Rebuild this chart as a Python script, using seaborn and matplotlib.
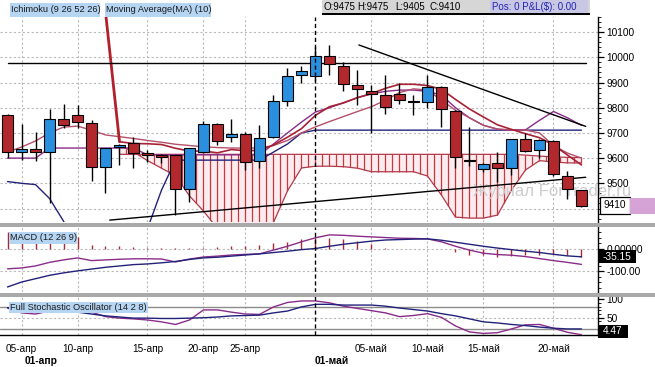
import numpy as np
import matplotlib
matplotlib.use("Agg")
import matplotlib.pyplot as plt
import seaborn as sns
from matplotlib.patches import Rectangle
from matplotlib.ticker import FixedLocator, MultipleLocator

sns.set_style("white")
plt.rcParams['font.family'] = ['Liberation Sans', 'DejaVu Sans']

# ---------------- data ----------------
open_ = [9771, 9623, 9635, 9623, 9754, 9771, 9738, 9564, 9643, 9659,
         9621, 9612, 9612, 9476, 9625, 9735, 9683, 9696, 9590, 9683,
         9828, 9930, 9927, 10005, 9965, 9890, 9867, 9850, 9853, 9824,
         9821, 9883, 9788, 9592, 9557, 9579, 9560, 9675, 9632, 9669,
         9530, 9475]
high = [9775, 9735, 9702, 9795, 9815, 9811, 9751, 9642, 9655, 9683,
        9632, 9615, 9614, 9641, 9747, 9738, 9754, 9705, 9731, 9850,
        9956, 9967, 10042, 10049, 9983, 9950, 9890, 9930, 9897, 9850,
        9930, 9886, 9790, 9725, 9580, 9625, 9677, 9698, 9675, 9672,
        9550, 9475]
low = [9600, 9592, 9590, 9421, 9718, 9718, 9510, 9460, 9573, 9560,
       9586, 9580, 9374, 9427, 9620, 9652, 9665, 9553, 9560, 9680,
       9808, 9899, 9905, 9930, 9866, 9811, 9698, 9774, 9813, 9771,
       9798, 9725, 9560, 9570, 9546, 9506, 9533, 9625, 9599, 9530,
       9437, 9405]
close = [9623, 9635, 9623, 9754, 9731, 9742, 9564, 9639, 9652, 9621,
         9612, 9603, 9476, 9639, 9735, 9669, 9696, 9583, 9679, 9825,
         9926, 9946, 10005, 9972, 9893, 9873, 9853, 9802, 9831, 9824,
         9883, 9795, 9603, 9592, 9577, 9560, 9675, 9629, 9672, 9537,
         9478, 9410]

# Moving average (10) - starts at index 7
ma_start = 7
ma10 = [10180, 9665, 9658, 9657, 9654, 9639, 9628, 9628, 9621, 9634,
        9629, 9631, 9652, 9683, 9717, 9770, 9804, 9819, 9840, 9856,
        9877, 9893, 9893, 9888, 9873, 9833, 9795, 9763, 9732, 9714,
        9697, 9681, 9652, 9612, 9573]

# Ichimoku lines
tenkan = [9624, 9644, 9668, 9700, 9723, 9727, 9711, 9692, 9685, 9678,
          9670, 9663, 9655, 9650, 9645, 9642, 9640, 9640, 9640, 9650,
          9670, 9700, 9724, 9745, 9765, 9785, 9804, 9830, 9860, 9875,
          9870, 9830, 9790, 9760, 9730, 9715, 9711, 9711, 9700, 9650,
          9620, 9600]
kijun = [9600, 9600, 9600, 9640, 9640, 9640, 9640, 9640, 9640, 9640,
         9613, 9613, 9613, 9613, 9613, 9613, 9613, 9613, 9613, 9656,
         9700, 9743, 9783, 9800, 9820, 9840, 9855, 9865, 9870, 9870,
         9865, 9850, 9800, 9760, 9730, 9715, 9712, 9712, 9750, 9785,
         9760, 9730]
chikou = [9507, 9500, 9495, 9440, 9350, 9250, 9250, 9250, 9250, 9250,
          9320, 9473, 9592, 9592, 9592, 9592, 9592, 9592, 9592, 9624,
          9656, 9700, 9711, 9711, 9711, 9711, 9711, 9711, 9711, 9711,
          9711, 9711, 9711, 9711, 9711, 9711, 9711, 9711, 9711, 9711,
          9711, 9711]
cloud_start = 8
span_b = [9615, 9615, 9615, 9615, 9615, 9615, 9615, 9615, 9615, 9615,
          9615, 9615, 9615, 9615, 9615, 9615, 9615, 9615, 9615, 9615,
          9615, 9615, 9615, 9615, 9615, 9615, 9615, 9615, 9615, 9612,
          9608, 9605, 9603, 9602]
span_a = [9650, 9625, 9590, 9560, 9530, 9450, 9390, 9320, 9300, 9300,
          9320, 9345, 9470, 9561, 9568, 9568, 9566, 9560, 9546, 9546,
          9546, 9546, 9529, 9453, 9366, 9362, 9362, 9374, 9473, 9553,
          9590, 9585, 9581, 9581]

# drawn trend lines (index, price)
hline_x, hline_y = [0.06, 41.3], [9977, 9977]
down_x, down_y = [25.1, 41.3], [10049, 9726]
up_x, up_y = [7.3, 41.3], [9354, 9524]

# MACD (12 26 9)
macd = [-89, -85, -76, -60, -49, -40, -52, -49, -46, -44, -44, -45, -58, -45,
        -36, -32, -27, -24, -22, -5, 12, 32, 50, 63, 61, 57, 54, 51, 48, 47,
        45, 32, 12, -5, -19, -25, -28, -34, -43, -52, -60, -69]
signal = [-170, -148, -133, -118, -107, -98, -90, -82, -76, -70, -67, -62,
          -56, -47, -40, -37, -32, -27, -22, -16, -10, -3, 2, 12, 21, 28,
          35, 40, 42, 44, 45, 39, 30, 21, 12, 4, -3, -10, -16, -24, -31, -35.15]
hist = [75, 25, 25, 25, 25, 53, 18, 15, 15, 10, 6, 3, 3, 6, 6, 10, 13, 15,
        18, 25, 32, 44, 54, 51, 44, 37, 22, 3, 1, 0, 0, 0, -15, -26, -29,
        -37, -32, -29, -26, -22, -26, -37]

# Full stochastic (14 2 8)
stoch_k = [76, 63, 60, 68, 76, 80, 65, 53, 49, 47, 44, 39, 32, 44, 71, 71,
           65, 60, 59, 79, 91, 95, 95, 90, 81, 75, 69, 63, 53, 56, 61, 51,
           28, 12, 8, 10, 20, 31, 32, 22, 11, 4.47]
stoch_d = [77, 71, 65, 65, 65, 65, 60, 55, 52, 49, 49, 48, 48, 49, 50, 52,
           55, 56, 57, 63, 68, 79, 86, 86, 84, 84, 84, 81, 76, 72, 68, 61,
           55, 47, 39, 36, 32, 29, 25, 22, 20, 20]

date_pos = [1, 5, 10, 14, 17, 26, 30, 34, 39]
date_labels = ["05-апр", "10-апр", "15-апр", "20-апр", "25-апр",
               "05-май", "10-май", "15-май", "20-май"]
month_sep = 22
price_ticks = [9500, 9600, 9700, 9800, 9900, 10000, 10100]

# ---------------- figure ----------------
W, H = 655, 367
fig = plt.figure(figsize=(W / 100, H / 100), dpi=100)
fig.patch.set_facecolor('white')


def fx(p):
    return p / W


def fy(p):
    return 1 - p / H


def rect_px(x0, y0, x1, y1, **kw):
    r = Rectangle((fx(x0), fy(y1)), fx(x1) - fx(x0), (y1 - y0) / H,
                  transform=fig.transFigure, **kw)
    fig.add_artist(r)


XL = (-0.536, 42.18)
ax_m = fig.add_axes([0, fy(222), fx(598), (222 - 17) / H])
ax_d = fig.add_axes([0, fy(292), fx(598), (292 - 227) / H])
ax_s = fig.add_axes([0, fy(335), fx(598), (335 - 296) / H])

GRID = dict(color='#b9b9b9', lw=0.8, ls=(0, (2, 2)), zorder=0)
for ax in (ax_m, ax_d, ax_s):
    ax.set_xlim(*XL)
    ax.set_facecolor('white')
    for s in ('top', 'left', 'bottom'):
        ax.spines[s].set_visible(False)
    ax.spines['right'].set_color('black')
    ax.spines['right'].set_linewidth(1)
    ax.yaxis.tick_right()
    ax.tick_params(axis='y', which='major', direction='out', length=4,
                   width=0.9, pad=2, labelsize=7.3, colors='black')
    ax.tick_params(axis='y', which='minor', direction='out', length=2, width=0.7)
    ax.set_xticks([])
    ax.grid(False)
    for t in date_pos:
        ax.axvline(t, **GRID)
    ax.axvline(month_sep, color='black', lw=1, ls=(0, (3, 2)), zorder=7)

idx = np.arange(len(close))
o = np.array(open_, float)
c = np.array(close, float)
h = np.array(high, float)
l = np.array(low, float)

# ---- main panel ----
ax_m.set_ylim(9346.5, 10160)
for p in range(9400, 10200, 100):
    ax_m.axhline(p, **GRID)

# cloud
ci = idx[cloud_start:]
sa = np.array(span_a, float)
sb = np.array(span_b, float)
ax_m.fill_between(ci, sa, sb, color='#fdecef', zorder=1, lw=0)
hx = np.arange(cloud_start, ci[-1] + 0.01, 0.5)
ax_m.vlines(hx, np.interp(hx, ci, sa), np.interp(hx, ci, sb),
            color='#c63a3e', lw=0.9, zorder=2)
sns.lineplot(x=ci, y=sa, ax=ax_m, color='#b13a4a', lw=0.9, estimator=None, zorder=2)
sns.lineplot(x=ci, y=sb, ax=ax_m, color='#b13a4a', lw=0.9, estimator=None, zorder=2)

# watermark (over the cloud, behind lines and candles)
ax_m.text(552 / 598, (222 - 191) / (222 - 17), "Журнал ForTrader.ru",
          transform=ax_m.transAxes, fontsize=12, color='#cdcdcd',
          ha='center', va='center', zorder=2.5, clip_on=False)

# indicator lines
sns.lineplot(x=idx, y=chikou, ax=ax_m, color='#22227a', lw=1.0, estimator=None, zorder=3)
sns.lineplot(x=idx, y=kijun, ax=ax_m, color='#8a2c8a', lw=1.0, estimator=None, zorder=3)
sns.lineplot(x=idx, y=tenkan, ax=ax_m, color='#b4506a', lw=1.0, estimator=None, zorder=3)
ma_x = idx[ma_start:]
sns.lineplot(x=ma_x[:2], y=ma10[:2], ax=ax_m, color='#b2202c', lw=2.0,
             estimator=None, zorder=3)
sns.lineplot(x=ma_x[1:], y=ma10[1:], ax=ax_m, color='#a82236', lw=1.2,
             estimator=None, zorder=3)

# trend lines
for tx, ty in ((hline_x, hline_y), (down_x, down_y), (up_x, up_y)):
    sns.lineplot(x=tx, y=ty, ax=ax_m, color='black', lw=1.0, estimator=None, zorder=4)

# candles
upc = c > o
dojic = c == o
cols = np.where(upc, '#2a8fde', '#b3282d').astype(object)
cols[dojic] = 'black'
bottom = np.minimum(o, c)
height = np.abs(c - o)
height = np.where(dojic, 3, np.maximum(height, 6))
bottom = np.where(dojic, c - 1.5, bottom)
ax_m.vlines(idx, l, h, color='black', lw=1.0, zorder=5)
ax_m.bar(idx, height, bottom=bottom, width=0.8, color=list(cols),
         edgecolor='black', linewidth=0.8, zorder=6)

ax_m.yaxis.set_major_locator(FixedLocator(price_ticks))
ax_m.set_yticklabels([str(p) for p in price_ticks])
ax_m.yaxis.set_minor_locator(MultipleLocator(20))

# ---- MACD panel ----
ax_d.set_ylim(-192.5, 98.2)
ax_d.axhline(0, **GRID)
ax_d.axhline(-100, **GRID)
ax_d.vlines(idx, 0, hist, color='#a82a34', lw=1.0, zorder=3)
sns.lineplot(x=idx, y=macd, ax=ax_d, color='#8a2c8a', lw=1.0, estimator=None, zorder=4)
sns.lineplot(x=idx, y=signal, ax=ax_d, color='#22227a', lw=1.0, estimator=None, zorder=4)
ax_d.yaxis.set_major_locator(FixedLocator([0, -100]))
ax_d.set_yticklabels(["0.00000", "-100.00"])
ax_d.yaxis.set_minor_locator(MultipleLocator(25))

# ---- Stochastic panel ----
ax_s.set_ylim(3.75, 108.3)
ax_s.axhline(50, **GRID)
ax_s.axhline(80, color='#8c8c8c', lw=1.0, zorder=1)
ax_s.axhline(20, color='#8c8c8c', lw=1.0, zorder=1)
sns.lineplot(x=idx, y=stoch_k, ax=ax_s, color='#8a2c8a', lw=1.0, estimator=None, zorder=4)
sns.lineplot(x=idx, y=stoch_d, ax=ax_s, color='#22227a', lw=1.0, estimator=None, zorder=4)
ax_s.yaxis.set_major_locator(FixedLocator([100, 50]))
ax_s.set_yticklabels(["100", "50"])
ax_s.yaxis.set_minor_locator(MultipleLocator(10))
ax_s.spines['bottom'].set_visible(True)
ax_s.spines['bottom'].set_color('black')
ax_s.spines['bottom'].set_linewidth(1)
ax_s.set_xticks(date_pos)
ax_s.set_xticklabels(date_labels)
ax_s.set_xticks(idx, minor=True)
ax_s.tick_params(axis='x', which='major', direction='out', length=4, width=0.9,
                 pad=2.5, labelsize=7.2, colors='black')
ax_s.tick_params(axis='x', which='minor', direction='out', length=2.5, width=0.7)

for ax in (ax_m, ax_d, ax_s):
    ax.set_xlabel("")
    ax.set_ylabel("")

# ---- separators ----
rect_px(0, 223, W, 227, color='#a9a9a9', lw=0)
rect_px(0, 293, W, 296.5, color='#a9a9a9', lw=0)

# ---- header labels ----
LB = '#b5d5f3'
rect_px(10, 3, 100, 16.5, color=LB, lw=0)
fig.text(fx(11), fy(10), "Ichimoku (9 26 52 26)", fontsize=6.7, va='center', color='#1a1a1a')
rect_px(105, 3, 211, 16.5, color=LB, lw=0)
fig.text(fx(106), fy(10), "Moving Average(MA) (10)", fontsize=6.7, va='center', color='#1a1a1a')

rect_px(322, 0, 590, 14, color='#d6d6d6', lw=0)
rect_px(490, 0, 588, 13, color='#c8c8e4', lw=0)
rect_px(322, 13.5, 590, 14.7, color='black', lw=0)
for xp, s in ((323, "O:9475"), (357, "H:9475"), (395, "L:9405"), (430, "C:9410")):
    fig.text(fx(xp), fy(7), s, fontsize=7, va='center', color='black')
fig.text(fx(492), fy(7), "Pos: 0 P&L($): 0.00", fontsize=7, va='center', color='#2424b4')

rect_px(9, 232, 77, 244, color=LB, lw=0)
fig.text(fx(10), fy(238), "MACD (12 26 9)", fontsize=6.7, va='center', color='#1a1a1a')
rect_px(9, 302, 148, 313, color=LB, lw=0)
fig.text(fx(10), fy(307.5), "Full Stochastic Oscillator (14 2 8)", fontsize=6.7,
         va='center', color='#1a1a1a')

# ---- right-side value boxes ----
rect_px(600, 197, 630, 214, facecolor='white', edgecolor='black', lw=0.9)
rect_px(630, 198, 655, 214, color='#d6a3d6', lw=0)
fig.text(fx(615), fy(205.5), "9410", fontsize=7.3, ha='center', va='center', color='black')
rect_px(598, 250, 636, 263, color='black', lw=0)
fig.text(fx(617), fy(256.5), "-35.15", fontsize=7.3, ha='center', va='center', color='white')
rect_px(598, 325, 628, 338, color='black', lw=0)
fig.text(fx(613), fy(331.5), "4.47", fontsize=7.3, ha='center', va='center', color='white')

# ---- month labels ----
fig.text(fx(25), fy(361), "01-апр", fontsize=7.4, fontweight='bold', va='center', color='black')
fig.text(fx(315), fy(361), "01-май", fontsize=7.4, fontweight='bold', va='center', color='black')

fig.savefig("out.png", dpi=100, facecolor='white')
